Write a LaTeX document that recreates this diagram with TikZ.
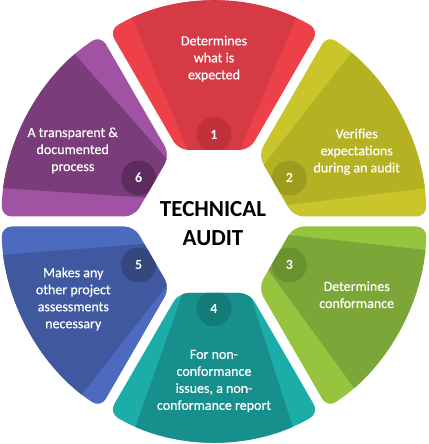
\documentclass[tikz,border=0pt]{standalone}
\usepackage{fontspec}
\setmainfont{Carlito}
\newfontfamily\segfont[FakeBold=0.5]{Carlito}
\definecolor{aD}{HTML}{D63A45}\definecolor{aL}{HTML}{EE4049}\definecolor{aC}{HTML}{C2303B}
\definecolor{bD}{HTML}{B4B223}\definecolor{bL}{HTML}{C9C52A}\definecolor{bC}{HTML}{9E9C1E}
\definecolor{cD}{HTML}{7CA637}\definecolor{cL}{HTML}{97C43F}\definecolor{cC}{HTML}{6A922F}
\definecolor{dD}{HTML}{178F8C}\definecolor{dL}{HTML}{1DADA9}\definecolor{dC}{HTML}{137B78}
\definecolor{eD}{HTML}{40589F}\definecolor{eL}{HTML}{4C6BBE}\definecolor{eC}{HTML}{34487F}
\definecolor{fD}{HTML}{7B3C7B}\definecolor{fL}{HTML}{A153A3}\definecolor{fC}{HTML}{5E2B5E}
\tikzset{
  segtext/.style={text=white, align=center, font=\segfont\fontsize{14}{17}\selectfont, inner sep=0pt},
  numdisc/.style={circle, minimum size=35pt, inner sep=0pt, text=white, font=\fontsize{14}{17}\selectfont\bfseries},
  ell/.style={x radius=212.5, y radius=220}
}
\begin{document}
\begin{tikzpicture}[x=1pt,y=1pt]
\fill[white] (0,0) rectangle (428,444);
\useasboundingbox (0,0) rectangle (428,444);
\begin{scope}[shift={(214,222.5)}]
% Segment 1
\begin{scope}
\path[clip, rounded corners=10] (-35.5,71.5) -- (35.5,71.5) -- (104.74,191.42) arc[start angle=60.46, end angle=119.54, ell] -- cycle;
\fill[aL] (-250,-250) rectangle (250,250);
\fill[aD] (0,10) -- (-110.1,270) -- (110.1,270) -- cycle;
\node[numdisc, fill=aC] (n1) at (90:87) {1};
\end{scope}
% Segment 2
\begin{scope}
\path[clip, rounded corners=10] (79.67,5) -- (212.45,5) arc[start angle=1.30, end angle=57.79, ell] -- (44.17,66.5) -- cycle;
\fill[bL] (-250,-250) rectangle (250,250);
\fill[bD] (12.67,9) -- (190.8,237.3) -- (282.5,42) -- cycle;
\node[numdisc, fill=bC] (n2) at (30:87) {2};
\end{scope}
% Segment 3
\begin{scope}
\path[clip, rounded corners=10] (79.67,-5) -- (212.45,-5) arc[start angle=-1.30, end angle=-57.79, ell] -- (44.17,-66.5) -- cycle;
\fill[cL] (-250,-250) rectangle (250,250);
\fill[cD] (24.9,-8.2) -- (282.5,-36) -- (198.3,-246.3) -- cycle;
\node[numdisc, fill=cC] (n3) at (-30:87) {3};
\end{scope}
% Segment 4
\begin{scope}
\path[clip, rounded corners=10] (-35.5,-71.5) -- (35.5,-71.5) -- (104.74,-191.42) arc[start angle=-60.46, end angle=-119.54, ell] -- cycle;
\fill[dL] (-250,-250) rectangle (250,250);
\fill[dD] (-5.9,0) -- (12.5,0) -- (99.75,-270) -- (-101.4,-270) -- cycle;
\node[numdisc, fill=dC] (n4) at (-90:87) {4};
\end{scope}
% Segment 5
\begin{scope}
\path[clip, rounded corners=10] (-79.67,-5) -- (-212.45,-5) arc[start angle=181.30, end angle=237.79, ell] -- (-44.17,-66.5) -- cycle;
\fill[eL] (-250,-250) rectangle (250,250);
\fill[eD] (-11.1,-17.8) -- (-276.5,-38.5) -- (-200.6,-260.6) -- cycle;
\node[numdisc, fill=eC] (n5) at (-150:87) {5};
\end{scope}
% Segment 6
\begin{scope}
\path[clip, rounded corners=10] (-79.67,5) -- (-212.45,5) arc[start angle=178.70, end angle=122.21, ell] -- (-44.17,66.5) -- cycle;
\fill[fL] (-250,-250) rectangle (250,250);
\fill[fD] (-9.66,19.8) -- (-203.7,240.6) -- (-279,38) -- cycle;
\node[numdisc, fill=fC] (n6) at (150:87) {6};
\end{scope}
% Texts
\node[segtext] (t1) at (0,162.8) {Determines\\what is\\expected};
\node[segtext] (t2) at (142.7,69.8) {Verifies\\expectations\\during an audit};
\node[segtext] (t3) at (142.7,-73.2) {Determines\\conformance};
\node[segtext] (t4) at (0,-159.5) {For non-\\conformance\\issues, a non-\\conformance report};
\node[segtext] (t5) at (-140.7,-77.5) {Makes any\\other project\\assessments\\necessary};
\node[segtext] (t6) at (-141.3,71.1) {A transparent \&\\documented\\process};
\node[align=center, font=\fontsize{23}{29}\selectfont\bfseries, inner sep=0pt] (title) at (-1,-2.5) {TECHNICAL\\AUDIT};
\end{scope}
\end{tikzpicture}
\end{document}
